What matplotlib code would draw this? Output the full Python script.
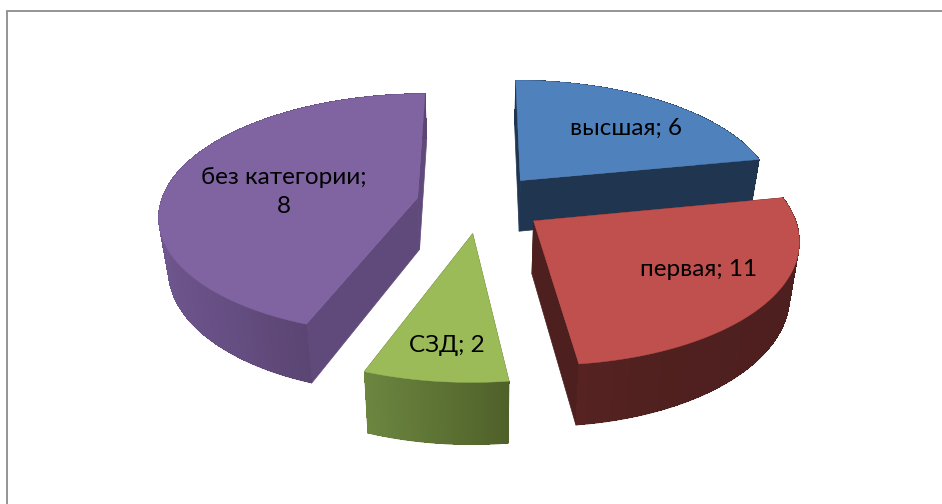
import numpy as np
import matplotlib
matplotlib.use('Agg')
import matplotlib.pyplot as plt
from matplotlib.collections import PolyCollection
from matplotlib.colors import to_rgb
from matplotlib.patches import Polygon, Rectangle

plt.rcParams['font.family'] = ['Lato', 'DejaVu Sans']

categories = ['высшая', 'первая', 'СЗД', 'без категории']
label_values = [6, 11, 2, 8]
# размеры секторов на картинке (градусы), с подписями они не совпадают
slice_degrees = [79, 94, 27.5, 159.5]

top_colors = ['#4F81BD', '#C0504D', '#9BBB59', '#8064A2']
face_colors = ['#1F3550', '#4D1F1E', '#5C7033', '#604A7B']
wall_left = ['#1F3550', '#5A2524', '#6C8640', '#6E568E']
wall_right = ['#1F3550', '#4D1F1E', '#4F6029', '#5B4573']
wall_power = [1, 0.3, 1, 1]

# параметры проекции
XC, YC = 480.5, 203
AX, AY = 257, 119.5
PERSP = 0.135
EXPLODE = 0.25
DEPTH = 52
SHRINK = 0.03


def project(X, Y, low=False):
    w = 1 + PERSP * Y
    if low:
        return XC + AX * X / w * (1 - SHRINK), YC - AY * Y / w + DEPTH / w
    return XC + AX * X / w, YC - AY * Y / w


def draw_slice(ax, start, end, i):
    mid = np.radians((start + end) / 2)
    ox, oy = EXPLODE * np.sin(mid), EXPLODE * np.cos(mid)
    th = np.radians(np.linspace(start, end, 160))
    X, Y = ox + np.sin(th), oy + np.cos(th)

    tx, ty = project(X, Y)
    bx, by = project(X, Y, low=True)
    ax0, ay0 = project(ox, oy)
    bx0, by0 = project(ox, oy, low=True)

    left, right = np.array(to_rgb(wall_left[i])), np.array(to_rgb(wall_right[i]))

    # подложка стенки, чтобы край был сглажен
    outline = np.column_stack([np.r_[tx, bx[::-1]], np.r_[ty, by[::-1]]])
    ax.add_patch(Polygon(outline, closed=True, fc=(left + right) / 2, ec='none'))

    # боковые грани у центра
    for j in (0, -1):
        pts = [(ax0, ay0), (tx[j], ty[j]), (bx[j], by[j]), (bx0, by0)]
        ax.add_patch(Polygon(pts, closed=True, fc=face_colors[i], ec=face_colors[i], lw=0.5))

    # внешняя стенка с градиентом по x
    vis = np.cos(th) < 0.15
    xmin, xmax = (tx[vis].min(), tx[vis].max()) if vis.any() else (tx.min(), tx.max())
    polys, cols = [], []
    for k in range(len(th) - 1):
        polys.append([(tx[k], ty[k]), (tx[k + 1], ty[k + 1]), (bx[k + 1], by[k + 1] - 0.6), (bx[k], by[k] - 0.6)])
        t = np.clip((tx[k] - xmin) / (xmax - xmin), 0, 1) ** wall_power[i]
        cols.append(left + (right - left) * t)
    ax.add_collection(PolyCollection(polys, facecolors=cols, edgecolors='none', antialiaseds=False))

    # верх сектора
    pts = np.column_stack([np.r_[ax0, tx], np.r_[ay0, ty]])
    ax.add_patch(Polygon(pts, closed=True, fc=top_colors[i], ec=top_colors[i], lw=0.3))


fig = plt.figure(figsize=(9.42, 5.04), dpi=100)
ax = fig.add_axes([0, 0, 1, 1])
ax.set_xlim(0, 942)
ax.set_ylim(504, 0)
ax.axis('off')

ax.add_patch(Rectangle((7, 10.5), 1000, 1000, fc='white', ec='#8C8C8C', lw=1.3))

edges = np.r_[0, np.cumsum(slice_degrees)]
for i in [0, 3, 1, 2]:
    draw_slice(ax, edges[i], edges[i + 1], i)

label_xy = [(626, 128), (699, 269), (447, 345), (284, 192)]
for i, (name, val) in enumerate(zip(categories, label_values)):
    text = f'{name};\n{val}' if i == 3 else f'{name}; {val}'
    ax.text(label_xy[i][0], label_xy[i][1], text, ha='center', va='center',
            fontsize=17.5, color='black', linespacing=1.45)

fig.savefig('out.png', dpi=100)
